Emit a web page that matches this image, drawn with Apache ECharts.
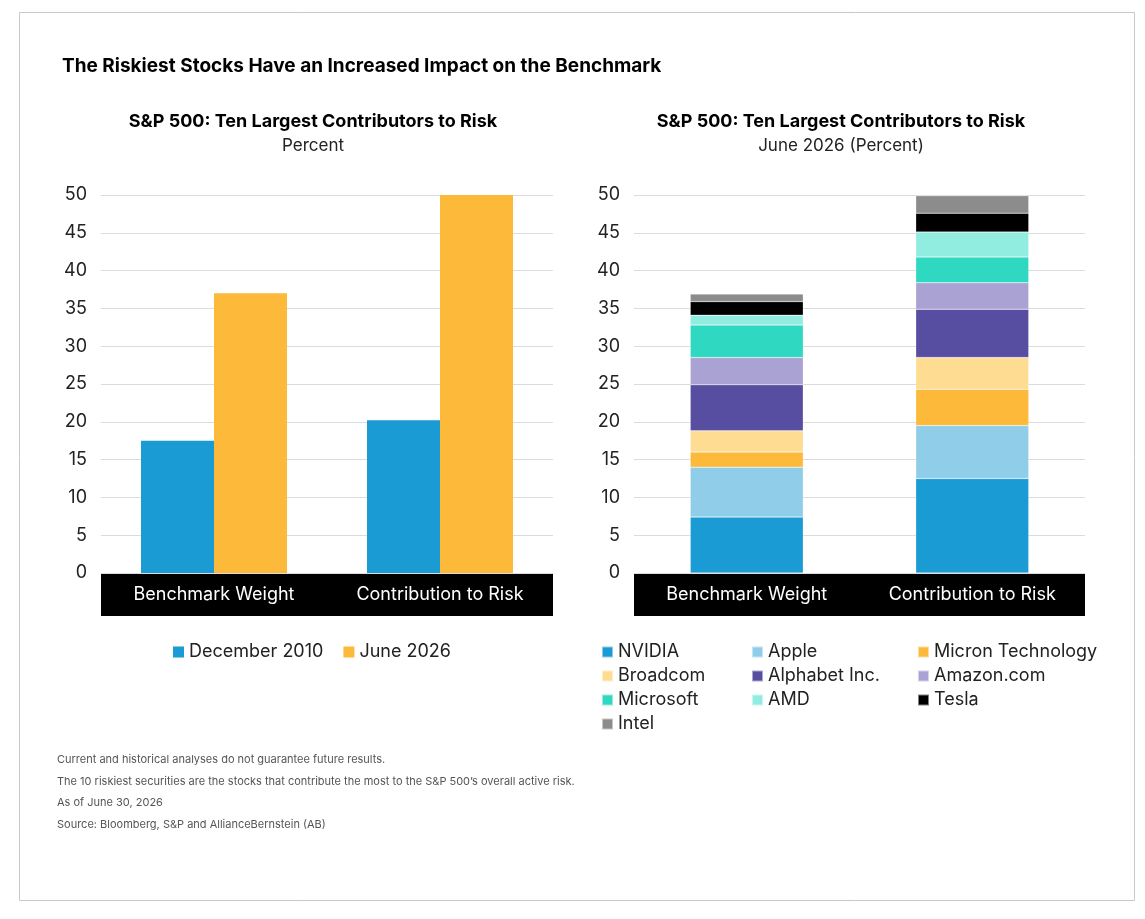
<!DOCTYPE html>
<html><head><meta charset="utf-8">
<script src="https://cdn.jsdelivr.net/npm/echarts@6/dist/echarts.min.js"></script>
<style>body{margin:0;background:#fff}#c{width:1145px;height:919px}</style>
</head><body><div id="c"></div>
<script>
const categories = ['Benchmark Weight', 'Contribution to Risk'];
const dec2010 = [17.5, 20.2];
const jun2026 = [37, 50];
const stocks = ['NVIDIA', 'Apple', 'Micron Technology', 'Broadcom', 'Alphabet Inc.', 'Amazon.com', 'Microsoft', 'AMD', 'Tesla', 'Intel'];
const stockValues = [
  [7.4, 12.5], [6.6, 7.0], [2.0, 4.8], [2.8, 4.2], [6.1, 6.4],
  [3.6, 3.5], [4.3, 3.4], [1.3, 3.3], [1.8, 2.5], [1.0, 2.3]
];
const stockColors = ['#1b9bd4', '#8fcde8', '#fdb93a', '#fedc91', '#584ea1', '#aaa2d2', '#2fd8c0', '#90ede0', '#000000', '#8c8c8c'];
const yTicks = [0, 50, 5];

const font = 'Inter, Roboto, sans-serif';
const chart = echarts.init(document.getElementById('c'));

function yAxis(idx) {
  return {
    gridIndex: idx, min: yTicks[0], max: yTicks[1], interval: yTicks[2],
    axisLine: {show: false}, axisTick: {show: false},
    axisLabel: {color: '#222', fontSize: 18, fontFamily: font, margin: 14},
    splitLine: {lineStyle: {color: '#dcdcdc'}}
  };
}
function xAxis(idx) {
  return {
    gridIndex: idx, type: 'category', data: categories,
    axisLine: {show: false}, axisTick: {show: false},
    axisLabel: {color: '#fff', fontSize: 18, fontFamily: font, margin: 13}
  };
}
const footnotes = [
  'Current and historical analyses do not guarantee future results.',
  'The 10 riskiest securities are the stocks that contribute the most to the S&P 500\u2019s overall active risk.',
  'As of June 30, 2026',
  'Source: Bloomberg, S&P and AllianceBernstein (AB)'
];
const legendCols = [
  ['NVIDIA', 'Broadcom', 'Microsoft', 'Intel'],
  ['Apple', 'Alphabet Inc.', 'AMD'],
  ['Micron Technology', 'Amazon.com', 'Tesla']
];
const legendX = [596, 746, 912];
const legendText = {color: '#222', fontSize: 18, fontFamily: font};

chart.setOption({
  animation: false,
  textStyle: {fontFamily: font},
  title: [
    {text: 'The Riskiest Stocks Have an Increased Impact on the Benchmark', left: 57, top: 52,
     textStyle: {fontSize: 19, fontWeight: 'bold', color: '#000', fontFamily: font}},
    {text: 'S&P 500: Ten Largest Contributors to Risk', subtext: 'Percent', left: 308, top: 108, textAlign: 'center', itemGap: 6,
     textStyle: {fontSize: 18, fontWeight: 'bold', color: '#000'}, subtextStyle: {fontSize: 17, color: '#222'}},
    {text: 'S&P 500: Ten Largest Contributors to Risk', subtext: 'June 2026 (Percent)', left: 836, top: 108, textAlign: 'center', itemGap: 6,
     textStyle: {fontSize: 18, fontWeight: 'bold', color: '#000'}, subtextStyle: {fontSize: 17, color: '#222'}}
  ],
  grid: [
    {left: 101, top: 195, width: 452, height: 378},
    {left: 634, top: 195, width: 451, height: 378}
  ],
  xAxis: [xAxis(0), xAxis(1)],
  yAxis: [yAxis(0), yAxis(1)],
  legend: [
    {data: ['December 2010', 'June 2026'], left: 168, top: 638, itemWidth: 11, itemHeight: 11, itemGap: 20,
     icon: 'rect', textStyle: legendText}
  ].concat(legendCols.map((col, i) => ({
    data: col, orient: 'vertical', left: legendX[i], top: 638, itemGap: 6,
    itemWidth: 11, itemHeight: 11, icon: 'rect', textStyle: legendText
  }))),
  graphic: [
    {type: 'rect', left: 17, top: 10, shape: {width: 1115, height: 888}, style: {fill: 'none', stroke: '#c8c8c8', lineWidth: 1}},
    {type: 'rect', left: 101, top: 573, z: -1, shape: {width: 452, height: 43}, style: {fill: '#000'}},
    {type: 'rect', left: 634, top: 573, z: -1, shape: {width: 451, height: 43}, style: {fill: '#000'}}
  ].concat(footnotes.map((t, i) => ({
    type: 'text', left: 57, top: 754 + i * 21.7, style: {text: t, fill: '#555', fontSize: 11, fontFamily: font}
  }))),
  series: [
    {name: 'December 2010', type: 'bar', xAxisIndex: 0, yAxisIndex: 0, data: dec2010, barWidth: 73, barGap: '0%', itemStyle: {color: '#1b9bd4'}},
    {name: 'June 2026', type: 'bar', xAxisIndex: 0, yAxisIndex: 0, data: jun2026, barWidth: 73, barGap: '0%', itemStyle: {color: '#fdb93a'}}
  ].concat(stocks.map((s, i) => ({
    name: s, type: 'bar', stack: 'risk', xAxisIndex: 1, yAxisIndex: 1, data: stockValues[i], barWidth: 113,
    itemStyle: {color: stockColors[i], borderColor: 'rgba(255,255,255,0.5)', borderWidth: 0.5}
  })))
});
</script>
</body></html>
